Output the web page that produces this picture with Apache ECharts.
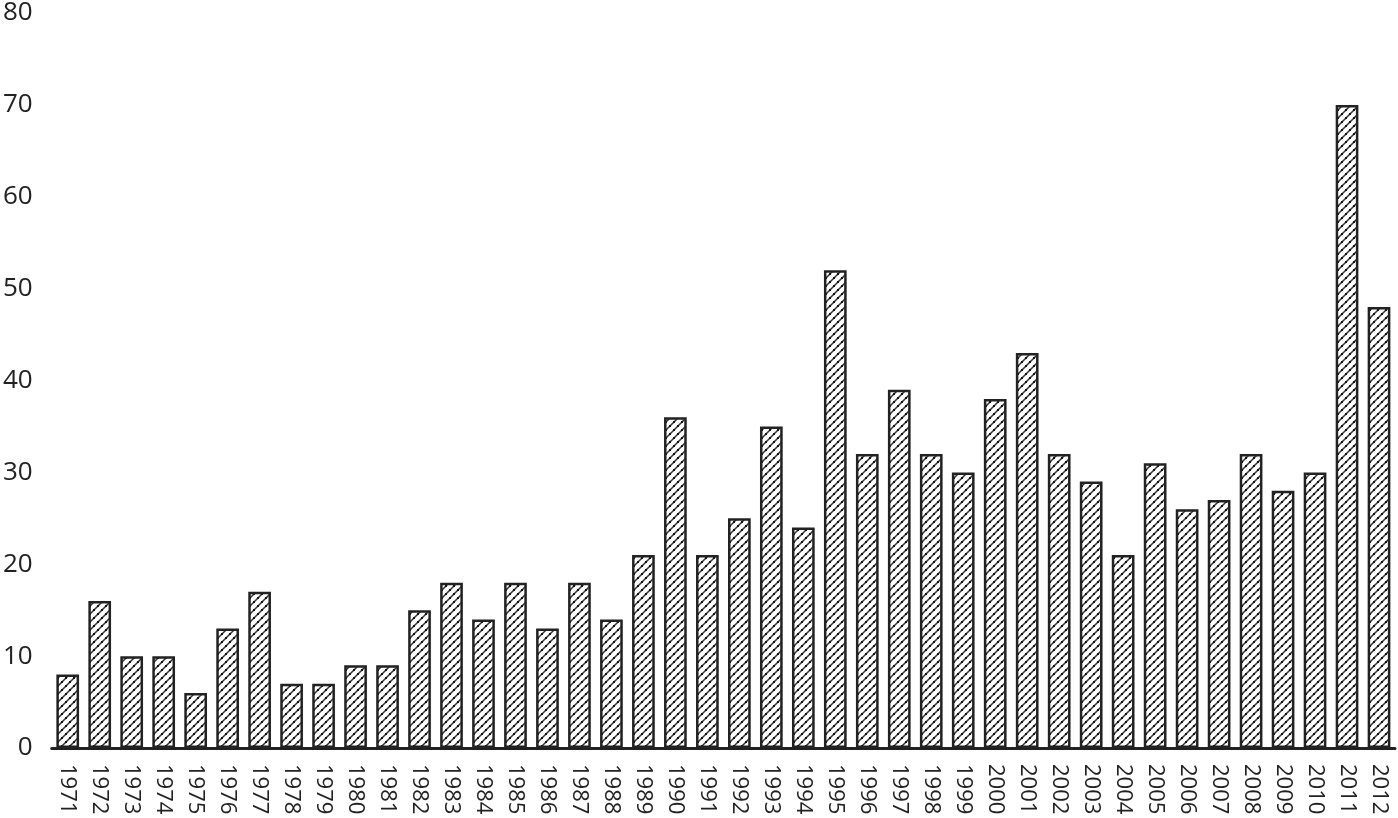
<!DOCTYPE html>
<html>
<head>
<meta charset="utf-8">
<script src="https://cdn.jsdelivr.net/npm/echarts@6/dist/echarts.min.js"></script>
<style>html,body{margin:0;padding:0;background:#fff;}</style>
</head>
<body>
<div id="main" style="width:1398px;height:818px;"></div>
<script type="text/javascript">
var years = [];
for (var y = 1971; y <= 2012; y++) years.push(String(y));
var counts = [8, 16, 10, 10, 6, 13, 17, 7, 7, 9, 9, 15, 18, 14, 18, 13, 18, 14, 21, 36,
	21, 25, 35, 24, 52, 32, 39, 32, 30, 38, 43, 32, 29, 21, 31, 26, 27, 32, 28, 30, 70, 48];

// hatch fill: diagonal stripes with dark dots along them
function makeHatch() {
	var c = document.createElement('canvas');
	c.width = 8; c.height = 8;
	var ctx = c.getContext('2d');
	ctx.fillStyle = '#fff';
	ctx.fillRect(0, 0, 8, 8);
	ctx.strokeStyle = '#333';
	ctx.lineWidth = 1.5;
	ctx.beginPath();
	ctx.moveTo(-1, 9); ctx.lineTo(9, -1);
	ctx.moveTo(-1, 1); ctx.lineTo(1, -1);
	ctx.moveTo(7, 9); ctx.lineTo(9, 7);
	ctx.stroke();
	ctx.fillStyle = '#111';
	ctx.fillRect(1, 5, 2, 2);
	ctx.fillRect(5, 1, 2, 2);
	return c;
}

var myChart = echarts.init(document.getElementById('main'));

var option = {
	backgroundColor: '#fff',
	animation: false,
	grid: { left: 51, right: 3, top: 13, bottom: 70, containLabel: false },
	xAxis: {
		type: 'category',
		data: years,
		axisLine: { show: true, lineStyle: { color: '#222', width: 3 } },
		axisTick: { show: false },
		axisLabel: {
			rotate: -90,
			interval: 0,
			margin: 16,
			color: '#222',
			fontFamily: 'Open Sans',
			fontSize: 22
		}
	},
	yAxis: {
		type: 'value',
		min: 0,
		max: 80,
		interval: 10,
		splitLine: { show: false },
		axisLine: { show: false },
		axisTick: { show: false },
		axisLabel: {
			margin: 19,
			color: '#222',
			fontFamily: 'Open Sans',
			fontSize: 26
		}
	},
	series: [{
		type: 'bar',
		data: counts,
		barCategoryGap: '29%',
		itemStyle: {
			color: { image: makeHatch(), repeat: 'repeat' },
			borderColor: '#222',
			borderWidth: 2.5
		}
	}]
};

myChart.setOption(option);
</script>
</body>
</html>
